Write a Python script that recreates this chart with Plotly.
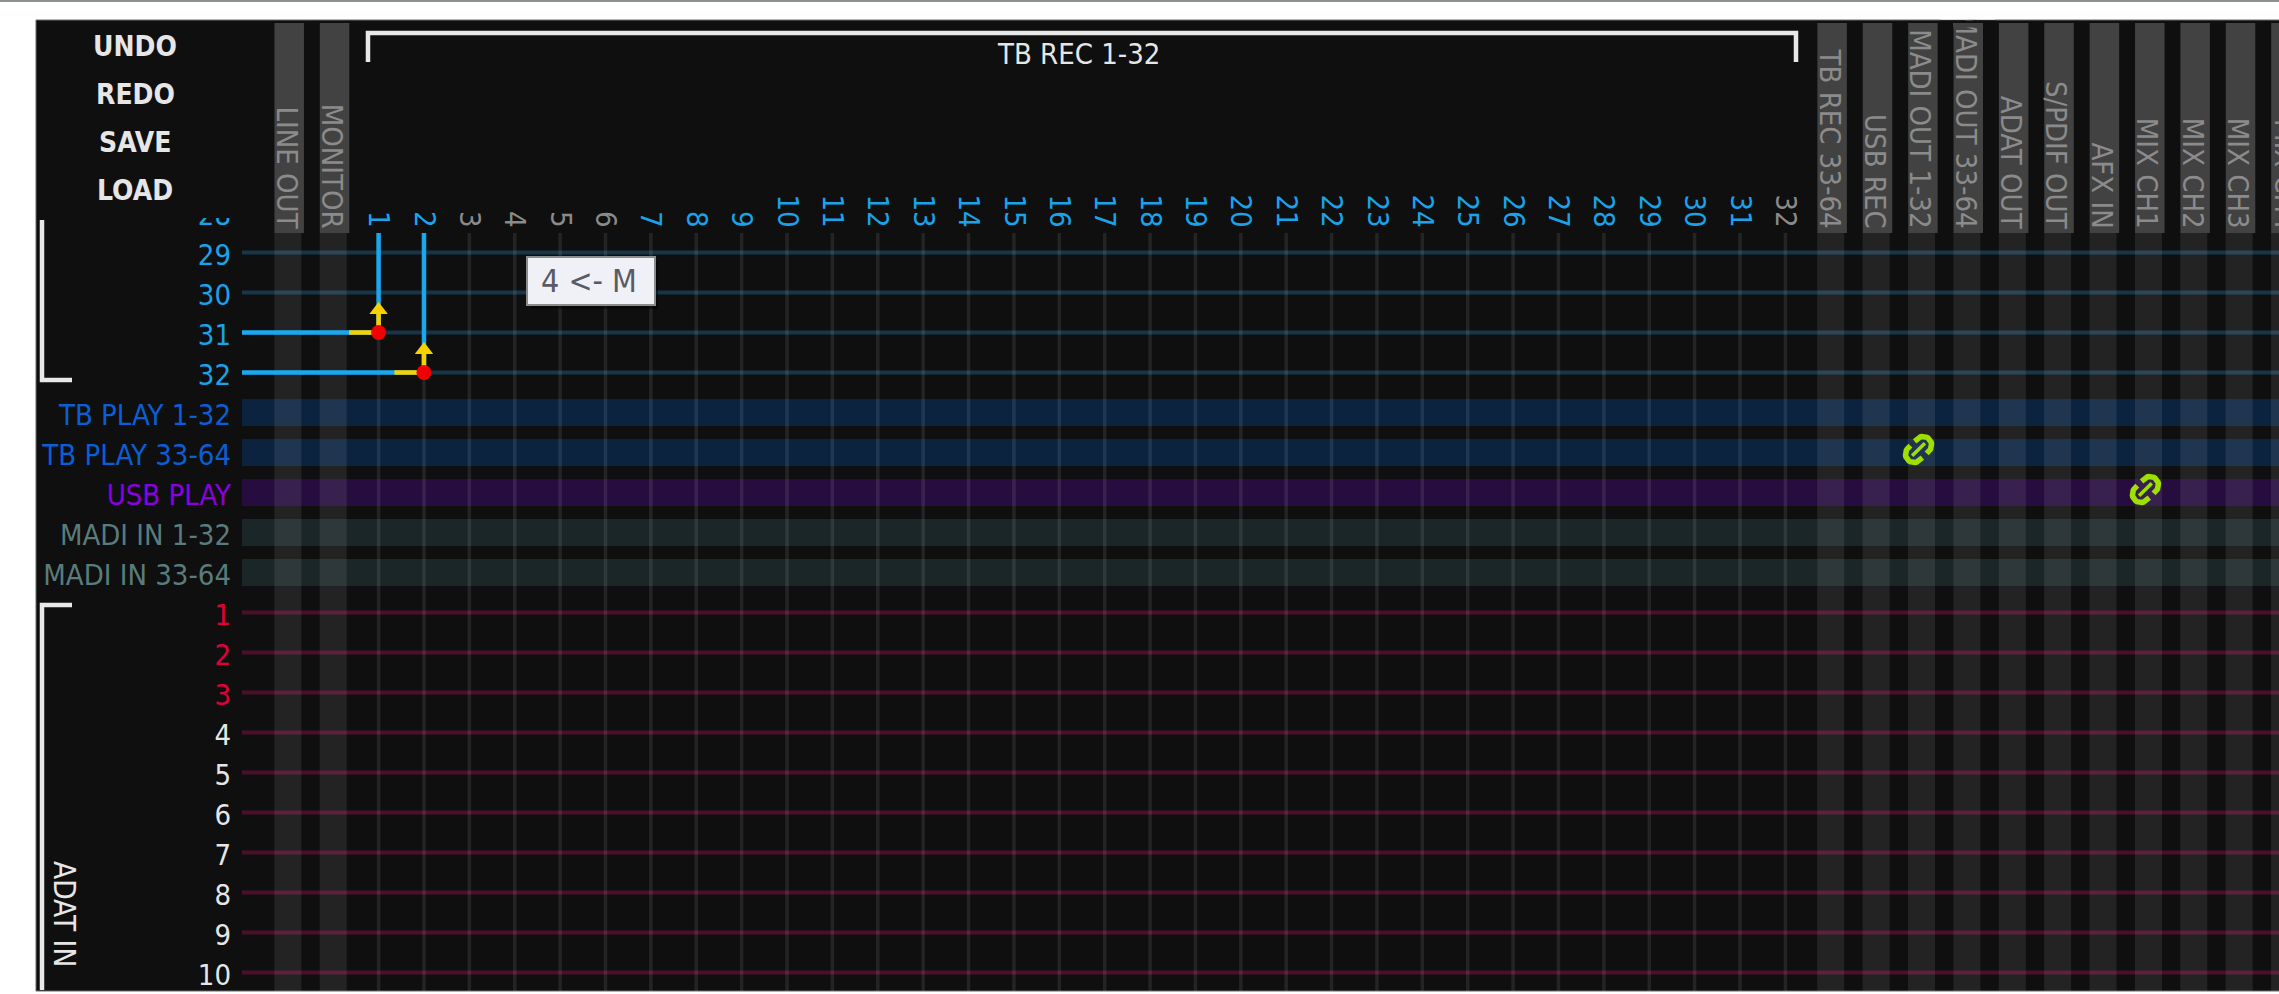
import math
import plotly.graph_objects as go

# ---------- data ----------
ROW_LABELS = ["28", "29", "30", "31", "32",
              "TB PLAY 1-32", "TB PLAY 33-64", "USB PLAY", "MADI IN 1-32", "MADI IN 33-64",
              "1", "2", "3", "4", "5", "6", "7", "8", "9", "10"]
ROW_COLORS = ["#1ba3ea"] * 5 + ["#0a5fd6", "#0a5fd6", "#8a00e0", "#5a7c7c", "#5a7c7c"] + \
             ["#e0003c"] * 3 + ["#e6e6e6"] * 7
ROW_LINES_BLUE = ["29", "30", "31", "32"]
ROW_LINES_RED = ["1", "2", "3", "4", "5", "6", "7", "8", "9", "10"]
BANDS = ["TB PLAY 1-32", "TB PLAY 33-64", "USB PLAY", "MADI IN 1-32", "MADI IN 33-64"]
BAND_COLORS = ["#0c2340", "#0c2340", "#270d3f", "#1b2628", "#1b2628"]

TB_COLS = list(range(1, 33))
TB_GREY = [3, 4, 5, 6, 32]
HEADER_COLS = [-1, 0, 33, 34, 35, 36, 37, 38, 39, 40, 41, 42, 43]
HEADER_LABELS = ["LINE OUT", "MONITOR", "TB REC 33-64", "USB REC", "MADI OUT 1-32", "MADI OUT 33-64",
                 "ADAT OUT", "S/PDIF OUT", "AFX IN", "MIX CH1", "MIX CH2", "MIX CH3", "MIX CH4"]

CONN_ROWS = ["31", "32"]
CONN_COLS = [1, 2]
LINK_ROWS = ["TB PLAY 33-64", "USB PLAY"]
LINK_COLS = [35, 40]
BUTTONS = ["UNDO", "REDO", "SAVE", "LOAD"]

# ---------- page geometry ----------
W, H = 2279, 994
FONT = "DejaVu Sans Condensed, DejaVu Sans, sans-serif"
COL_PX = 45.38
ROW_PX = 40.0
X0 = 378.6          # pixel of column 1
Y0 = 212.5          # pixel of first row
def dx(px): return 1 + (px - X0) / COL_PX
def dy(py): return (py - Y0) / ROW_PX
def px_(px): return px / W
def py_(py): return 1 - py / H
rpos = {r: i for i, r in enumerate(ROW_LABELS)}

PANEL_L, PANEL_T, PANEL_B = 36, 20, 991
GRID_L, GRID_T = 242, 233
xl, xr = dx(GRID_L), dx(W)
yt, yb = dy(GRID_T), dy(PANEL_B)

fig = go.Figure()

def lines(segs, color, width):
    xs, ys = [], []
    for (a, b), (c, d) in segs:
        xs += [a, c, None]
        ys += [b, d, None]
    fig.add_trace(go.Scatter(x=xs, y=ys, mode="lines", line=dict(color=color, width=width),
                             hoverinfo="skip", showlegend=False))

# bands
for b, c in zip(BANDS, BAND_COLORS):
    lines([((xl, rpos[b]), (xr, rpos[b]))], c, 27)
# rows
lines([((xl, rpos[r]), (xr, rpos[r])) for r in ROW_LINES_BLUE], "#17364a", 4)
lines([((xl, rpos[r]), (xr, rpos[r])) for r in ROW_LINES_RED], "#4c0f29", 4)
# column overlays
lines([((c, yt), (c, yb)) for c in HEADER_COLS], "rgba(255,255,255,0.085)", 27)
lines([((c, yt), (c, yb)) for c in TB_COLS], "rgba(255,255,255,0.09)", 3.5)
# header bars
lines([((c + 0.03, dy(23)), (c + 0.03, yt)) for c in HEADER_COLS], "#424242", 29.5)

# connections
for r, c in zip(CONN_ROWS, CONN_COLS):
    y = rpos[r]
    lines([((xl, y), (c, y)), ((c, yt), (c, y))], "#1ba7ee", 4.5)
    lines([((c - 0.65, y), (c, y)), ((c, y - 0.5), (c, y))], "#f7d000", 4.5)
    fig.add_trace(go.Scatter(x=[c], y=[y - 0.56], mode="markers", hoverinfo="skip", showlegend=False,
                             marker=dict(symbol="triangle-up", size=16, color="#f7d000")))
    fig.add_trace(go.Scatter(x=[c], y=[y], mode="markers", hoverinfo="skip", showlegend=False,
                             marker=dict(symbol="circle", size=15, color="#f00000")))

# chain-link icons
def link_icon(col, row):
    cx, cy = X0 + (col - 1) * COL_PX - 3, Y0 + rpos[row] * ROW_PX - 3
    u = (math.sqrt(.5), -math.sqrt(.5))
    v = (math.sqrt(.5), math.sqrt(.5))
    for sgn in (1, -1):
        xs, ys = [], []
        for k in range(-2, 23):
            if k < 0:
                a, b = sgn * (5.5 + (k + 1) * 2.5), -sgn * 8.5
            elif k > 20:
                a, b = sgn * (5.5 + (21 - k) * 2.5), sgn * 8.5
            else:
                t = math.pi * (k / 20 - .5)
                a, b = sgn * (6.5 + 8.5 * math.cos(t)), sgn * 8.5 * math.sin(t)
            xs.append(dx(cx + a * u[0] + b * v[0]))
            ys.append(dy(cy + a * u[1] + b * v[1]))
        fig.add_trace(go.Scatter(x=xs, y=ys, mode="lines", line=dict(color="#9fe000", width=5.5),
                                 hoverinfo="skip", showlegend=False))
    lines([((dx(cx - 9 * u[0]), dy(cy - 9 * u[1])), (dx(cx + 9 * u[0]), dy(cy + 9 * u[1])))], "#9fe000", 3.5)

for r, c in zip(LINK_ROWS, LINK_COLS):
    link_icon(c, r)

# ---------- shapes ----------
def rect(l, t, r, b, fill, line=None, lw=0, layer="above"):
    return dict(type="rect", xref="paper", yref="paper", x0=px_(l), x1=px_(r), y0=py_(b), y1=py_(t),
                fillcolor=fill, line=dict(color=line or fill, width=lw), layer=layer)

def poly(pts, color="#e8e8e8", width=4.5):
    d = "M" + " L".join(f"{px_(a):.5f},{py_(b):.5f}" for a, b in pts)
    return dict(type="path", xref="paper", yref="paper", path=d, line=dict(color=color, width=width), layer="above")

shapes = [
    rect(0, 0, W, 2, "#8b928b", layer="below"),
    rect(PANEL_L, PANEL_T, W + 5, PANEL_B, "#0f0f0f", "#6a6a6a", 1, layer="below"),
    rect(100, 190, 240, 218, "#0f0f0f"),           # trims the row label above 29
    rect(1940, 2, 1995, 19.5, "#ffffff"),          # trims the longest header label at the panel top
    rect(1940, 20.5, 1995, 23, "#0f0f0f"),
    rect(1953, 23, 1982.5, 27.5, "#424242"),
    poly([(368, 62), (368, 33), (1796, 33), (1796, 62)]),
    poly([(42, 220), (42, 380), (72, 380)]),
    poly([(72, 605), (42, 605), (42, 990)]),
    rect(531, 261, 658, 309, "rgba(0,0,0,0.45)"),
    rect(527, 257, 655, 305, "#f0f0f7", "#8c8c8c", 2),
]

# ---------- annotations ----------
ann = []
def text(x, y, s, size, color, angle=0, xa="center", ya="middle", bold=False):
    ann.append(dict(x=x, y=y, xref="x", yref="y", text=f"<b>{s}</b>" if bold else s, showarrow=False,
                    font=dict(family=FONT, size=size, color=color), textangle=angle,
                    xanchor=xa, yanchor=ya))

for s, py in zip(BUTTONS, [46, 94, 142, 190]):
    text(dx(135), dy(py), s, 28, "#e6e6e6", bold=True)
text(dx(1078), dy(54), "TB REC 1-32", 29, "#e6e6e6")
text(dx(64), dy(914), "ADAT IN", 29.5, "#e6e6e6", angle=90)
text(dx(589), dy(281), "4 &lt;- M", 32, "#5a5a66")
# the last header sits mostly beyond the right edge of the page
ann.append(dict(x=px_(X0 + (HEADER_COLS[-1] - 1) * COL_PX), y=py_(232), xref="paper", yref="paper",
                text=HEADER_LABELS[-1], showarrow=False, textangle=90, xanchor="center", yanchor="bottom",
                font=dict(family=FONT, size=29, color="#8b8b8b")))

# header labels as ticks of a second x axis (kept under the trimming shapes)
fig.add_trace(go.Scatter(x=[HEADER_COLS[0]], y=[0], xaxis="x2", yaxis="y", mode="markers",
                         marker=dict(opacity=0), hoverinfo="skip", showlegend=False))

# ---------- layout ----------
fig.update_layout(
    width=W, height=H, margin=dict(l=0, r=0, t=0, b=0, pad=0),
    paper_bgcolor="#ffffff", plot_bgcolor="rgba(0,0,0,0)",
    showlegend=False, shapes=shapes, annotations=ann, hovermode=False,
    xaxis=dict(domain=[0, 1], range=[dx(0), dx(W)], anchor="free", position=py_(GRID_T), side="top",
               tickmode="array", tickvals=TB_COLS,
               ticktext=[f"<span style='color:{'#8a8a8a' if c in TB_GREY else '#1ba3ea'}'>{c}</span>" for c in TB_COLS],
               tickangle=90, ticks="", showgrid=False, zeroline=False, showline=False,
               ticklabelstandoff=1, tickfont=dict(family=FONT, size=29, color="#1ba3ea")),
    xaxis2=dict(domain=[0, 1], range=[dx(0) + 0.04, dx(W) + 0.04], overlaying="x", anchor="free",
                position=py_(233), side="top", tickmode="array",
                tickvals=HEADER_COLS[:-1], ticktext=HEADER_LABELS[:-1], tickangle=90, ticks="",
                showgrid=False, zeroline=False, showline=False,
                tickfont=dict(family=FONT, size=29, color="#8b8b8b")),
    yaxis=dict(domain=[0, 1], range=[dy(H), dy(0)], anchor="free", position=px_(GRID_L), side="left",
               tickmode="array", tickvals=list(range(len(ROW_LABELS))),
               ticktext=[f"<span style='color:{c}'>{s}</span>" for s, c in zip(ROW_LABELS, ROW_COLORS)],
               ticks="", showgrid=False, zeroline=False, showline=False,
               ticklabelstandoff=11, ticklabelshift=-2, tickfont=dict(family=FONT, size=29, color="#e6e6e6")),
)

fig.write_html("out.html", config=dict(displayModeBar=False),
               post_script="document.body.style.margin='0';document.body.style.overflow='hidden';")
